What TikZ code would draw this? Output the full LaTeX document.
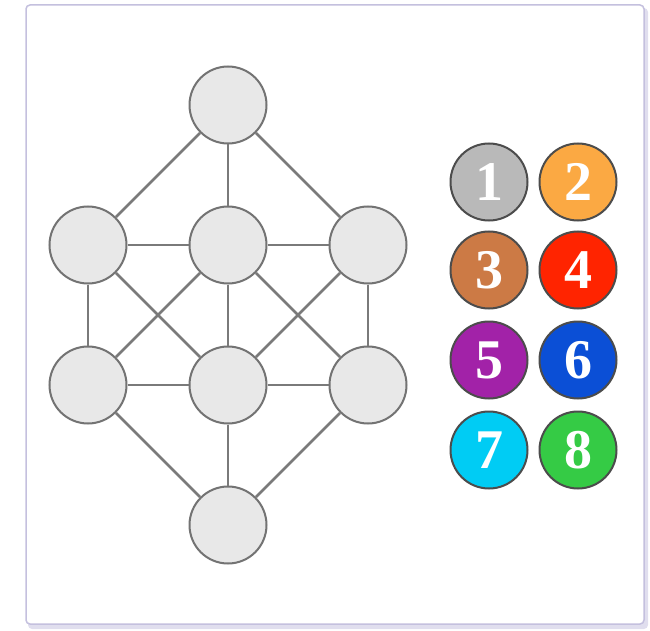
\documentclass[tikz,border=0pt]{standalone}
\usepackage{fontspec}
\setmainfont{Liberation Serif}
\begin{document}
\begin{tikzpicture}[x=1pt,y=-1pt,
  vert/.style={circle,draw=black!55,line width=2pt,fill=black!9,minimum size=77pt,inner sep=0pt},
  edge/.style={draw=black!52,line width=2.5pt},
  badge/.style={circle,draw=black!70,line width=2pt,minimum size=77pt,inner sep=0pt,text=white,font=\fontsize{56}{56}\selectfont\bfseries}]
\useasboundingbox (0,0) rectangle (650,631);
\definecolor{frameC}{HTML}{C4C0DE}
\definecolor{shadowC}{HTML}{E0DEEE}
\definecolor{c1}{HTML}{B9B9B9}
\definecolor{c2}{HTML}{FBA943}
\definecolor{c3}{HTML}{CC7A45}
\definecolor{c4}{HTML}{FF2400}
\definecolor{c5}{HTML}{A222A8}
\definecolor{c6}{HTML}{0B4FD6}
\definecolor{c7}{HTML}{00CCF4}
\definecolor{c8}{HTML}{35CB45}
\fill[shadowC,rounded corners=4pt] (28,8) rectangle (648,629);
\draw[frameC,fill=white,line width=1.5pt,rounded corners=4pt] (26,5) rectangle (644,624);
\node[vert] (t) at (228,105) {};
\node[vert] (a) at (88,245) {};
\node[vert] (b) at (228,245) {};
\node[vert] (c) at (368,245) {};
\node[vert] (d) at (88,385) {};
\node[vert] (e) at (228,385) {};
\node[vert] (f) at (368,385) {};
\node[vert] (g) at (228,525) {};
\foreach \u/\v in {t/a,t/b,t/c,a/b,b/c,a/d,b/e,c/f,a/e,b/d,b/f,c/e,d/e,e/f,d/g,e/g,f/g}
  \draw[edge] (\u) -- (\v);
\node[badge,fill=c1] (n1) at (489,182) {1};
\node[badge,fill=c2] (n2) at (578,182) {2};
\node[badge,fill=c3] (n3) at (489,270) {3};
\node[badge,fill=c4] (n4) at (578,270) {4};
\node[badge,fill=c5] (n5) at (489,360) {5};
\node[badge,fill=c6] (n6) at (578,360) {6};
\node[badge,fill=c7] (n7) at (489,450) {7};
\node[badge,fill=c8] (n8) at (578,450) {8};
\end{tikzpicture}
\end{document}
